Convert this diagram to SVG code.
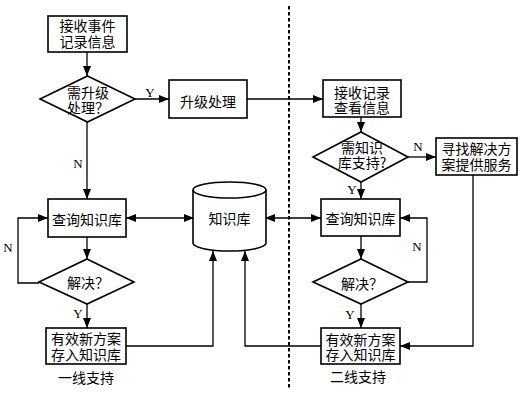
<svg xmlns="http://www.w3.org/2000/svg" width="522" height="403" viewBox="0 0 522 403">
<defs>
<marker id="ah" viewBox="0 0 10 8" refX="10" refY="4" markerWidth="10" markerHeight="8" markerUnits="userSpaceOnUse" orient="auto-start-reverse">
<path d="M0,0 L10,4 L0,8 Z" fill="#000"/>
</marker>
<style>
.box{fill:#fff;stroke:#000;stroke-width:1.6}
.ln{fill:none;stroke:#000;stroke-width:1.6}
.arr{fill:none;stroke:#000;stroke-width:1.3;marker-end:url(#ah)}
.dbl{fill:none;stroke:#000;stroke-width:1.3;marker-start:url(#ah);marker-end:url(#ah)}
.t{font-family:"Noto Sans CJK SC","Noto Sans CJK TC",serif;font-size:14px;fill:#000;text-anchor:middle}
.l{font-family:"Liberation Serif",serif;font-size:13px;fill:#000;text-anchor:middle}
</style>
</defs>
<rect width="522" height="403" fill="#fff"/>
<line x1="289" y1="6" x2="289" y2="389" stroke="#000" stroke-width="2" stroke-dasharray="3.5,2.5"/>
<g id="connectors">
<path class="arr" d="M87,52 V76"/>
<path class="arr" d="M135,99 H169"/>
<path class="arr" d="M87,122 V199"/>
<path class="arr" d="M247,99 H323"/>
<path class="dbl" d="M126,218 H194"/>
<path class="arr" d="M87,237 V259"/>
<path class="arr" d="M39,283 H18 V218 H48"/>
<path class="arr" d="M87,304 V328"/>
<path class="arr" d="M126,346 H213 V251"/>
<path class="arr" d="M361,117 V132"/>
<path class="arr" d="M408,157 H436"/>
<path class="arr" d="M361,182 V199"/>
<path class="dbl" d="M265,218 H321"/>
<path class="arr" d="M361,236 V259"/>
<path class="arr" d="M408,282 H427 V218 H400"/>
<path class="arr" d="M361,304 V328"/>
<path class="arr" d="M321,346 H245 V251"/>
<path class="arr" d="M473,175 V346 H400"/>
<text class="l" x="150" y="97">Y</text>
<text class="l" x="78" y="168">N</text>
<text class="l" x="8" y="252">N</text>
<text class="l" x="78" y="318">Y</text>
<text class="l" x="418" y="151">N</text>
<text class="l" x="352" y="194">Y</text>
<text class="l" x="417" y="251">N</text>
<text class="l" x="350" y="319">Y</text>
</g>
<g id="n1"><rect class="box" x="48" y="16" width="79" height="36"/><text class="t"><tspan x="87.5" y="31">接收事件</tspan><tspan x="87.5" y="46.5">记录信息</tspan></text></g>
<g id="d1"><path class="box" d="M87.5,76 L135,99 L87.5,122 L40,99 Z"/><text class="t"><tspan x="88" y="98">需升级</tspan><tspan x="88" y="112.5">处理？</tspan></text></g>
<g id="n2"><rect class="box" x="169" y="80" width="78" height="38"/><text class="t" x="208" y="107">升级处理</text></g>
<g id="n3"><rect class="box" x="48" y="199" width="78" height="38"/><text class="t" x="87" y="225">查询知识库</text></g>
<g id="db"><path class="box" d="M193,190 V243 A36.5,8 0 0 0 266,243 V190 A36.5,8 0 0 0 193,190 Z"/><path class="ln" d="M193,190 A36.5,8 0 0 0 266,190"/><text class="t" x="229.5" y="224">知识库</text></g>
<g id="d2"><path class="box" d="M87,259 L134,282 L87,304 L39,282 Z"/><text class="t" x="88" y="288">解决？</text></g>
<g id="n4"><rect class="box" x="46" y="328" width="80" height="36"/><text class="t"><tspan x="86" y="344">有效新方案</tspan><tspan x="86" y="359.5">存入知识库</tspan></text></g>
<g id="m1"><rect class="box" x="323" y="80" width="78" height="37"/><text class="t"><tspan x="362" y="97.5">接收记录</tspan><tspan x="362" y="112.5">查看信息</tspan></text></g>
<g id="md1"><path class="box" d="M361,132 L408,157 L361,182 L313,157 Z"/><text class="t"><tspan x="362" y="152.5">需知识</tspan><tspan x="362" y="167.5">库支持?</tspan></text></g>
<g id="m2"><rect class="box" x="436" y="138" width="81" height="37"/><text class="t"><tspan x="476.5" y="154">寻找解决方</tspan><tspan x="476.5" y="170">案提供服务</tspan></text></g>
<g id="m3"><rect class="box" x="321" y="199" width="79" height="37"/><text class="t" x="360.5" y="224">查询知识库</text></g>
<g id="md2"><path class="box" d="M361,259 L408,282 L361,304 L313,282 Z"/><text class="t" x="362" y="288.5">解决？</text></g>
<g id="m4"><rect class="box" x="321" y="328" width="79" height="36"/><text class="t"><tspan x="360.5" y="345">有效新方案</tspan><tspan x="360.5" y="359.5">存入知识库</tspan></text></g>
<text class="t" x="86" y="383">一线支持</text>
<text class="t" x="358" y="382">二线支持</text>
</svg>
